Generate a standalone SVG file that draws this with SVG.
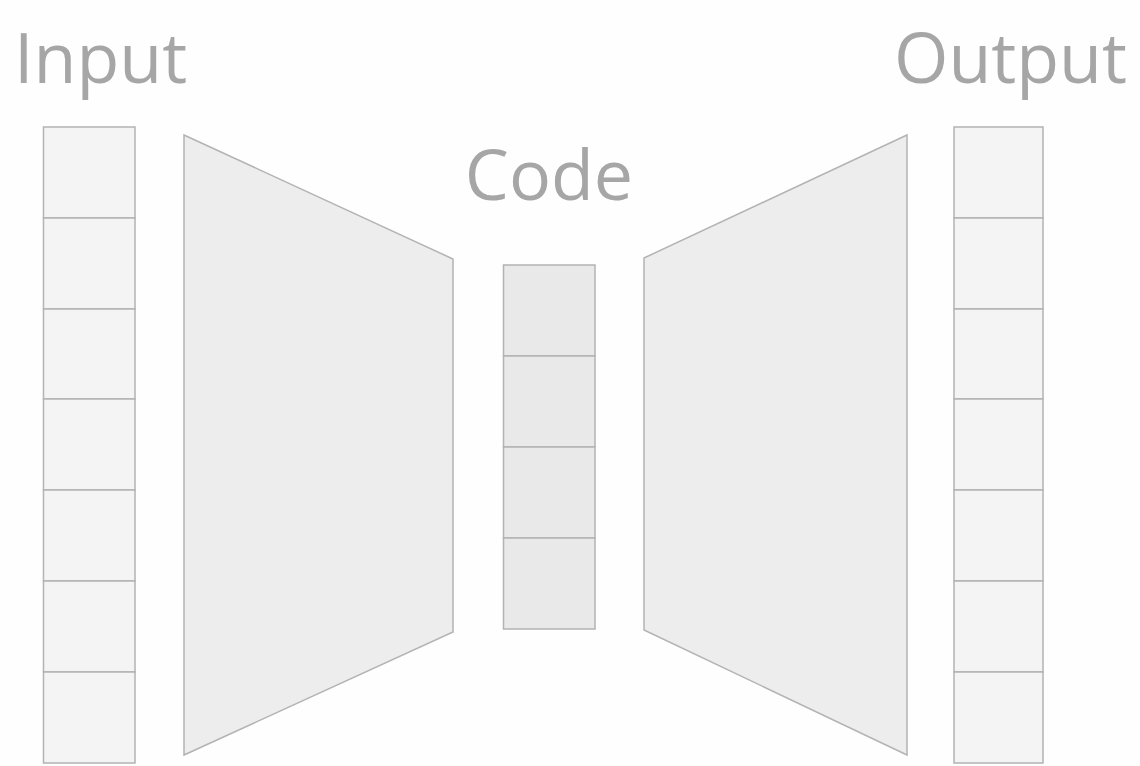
<svg xmlns="http://www.w3.org/2000/svg" width="1140" height="766" viewBox="0 0 1140 766">
<style>
.t{font-family:"Open Sans","Noto Sans",sans-serif;font-size:70px;fill:#a6a6a6}
.cell{fill:#f4f4f4;stroke:#b3b3b3;stroke-width:1.5}
.code{fill:#e9e9e9;stroke:#b3b3b3;stroke-width:1.5}
.trap{fill:#ededed;stroke:#b3b3b3;stroke-width:1.5}
</style>
<rect width="1140" height="766" fill="#fefefe"/>
<text class="t" x="14" y="83">Input</text>
<text class="t" x="549" y="200" text-anchor="middle">Code</text>
<text class="t" x="1127" y="83" text-anchor="end">Output</text>
<g id="input">
<rect class="cell" x="43.5" y="127" width="91.5" height="91"/>
<rect class="cell" x="43.5" y="218" width="91.5" height="91"/>
<rect class="cell" x="43.5" y="309" width="91.5" height="90"/>
<rect class="cell" x="43.5" y="399" width="91.5" height="91"/>
<rect class="cell" x="43.5" y="490" width="91.5" height="91"/>
<rect class="cell" x="43.5" y="581" width="91.5" height="91"/>
<rect class="cell" x="43.5" y="672" width="91.5" height="91"/>
</g>
<g id="encoder">
<polygon class="trap" points="184,135 453,259 453,632 184,755"/>
</g>
<g id="code">
<rect class="code" x="503.5" y="265" width="91.5" height="91"/>
<rect class="code" x="503.5" y="356" width="91.5" height="91"/>
<rect class="code" x="503.5" y="447" width="91.5" height="91"/>
<rect class="code" x="503.5" y="538" width="91.5" height="91"/>
</g>
<g id="decoder">
<polygon class="trap" points="644,258 907,135 907,755 644,630"/>
</g>
<g id="output">
<rect class="cell" x="954" y="127" width="89" height="91"/>
<rect class="cell" x="954" y="218" width="89" height="91"/>
<rect class="cell" x="954" y="309" width="89" height="90"/>
<rect class="cell" x="954" y="399" width="89" height="91"/>
<rect class="cell" x="954" y="490" width="89" height="91"/>
<rect class="cell" x="954" y="581" width="89" height="91"/>
<rect class="cell" x="954" y="672" width="89" height="91"/>
</g>
<g id="connectors"/>
</svg>
